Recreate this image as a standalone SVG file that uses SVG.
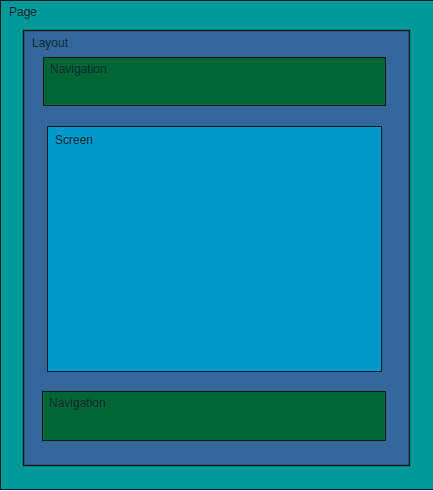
<svg xmlns="http://www.w3.org/2000/svg" width="433" height="491" viewBox="0 0 433 491">
<style>
.box{stroke:#0a1a24;stroke-width:1}
.lbl{font-family:"Liberation Sans",Arial,sans-serif;font-size:12px;fill:#0d2a33}
</style>
<rect x="0" y="0" width="433" height="491" fill="#ffffff"/>
<g id="page">
<rect class="box" x="0.5" y="0.5" width="433" height="489" fill="#009999"/>
<text class="lbl" x="9" y="16">Page</text>
</g>
<g id="layout">
<rect class="box" x="23.5" y="30.5" width="386" height="435" fill="#336699" style="stroke-width:1.5"/>
<text class="lbl" x="32" y="47">Layout</text>
</g>
<g id="nav-top">
<rect class="box" x="43.5" y="57.5" width="342" height="48" fill="#006633"/>
<text class="lbl" x="50" y="73">Navigation</text>
</g>
<g id="screen">
<rect class="box" x="47.5" y="126.5" width="334" height="245" fill="#0099cc"/>
<text class="lbl" x="55" y="144">Screen</text>
</g>
<g id="nav-bottom">
<rect class="box" x="42.5" y="391.5" width="343" height="49" fill="#006633"/>
<text class="lbl" x="49" y="407">Navigation</text>
</g>
<g id="connectors"></g>
</svg>
